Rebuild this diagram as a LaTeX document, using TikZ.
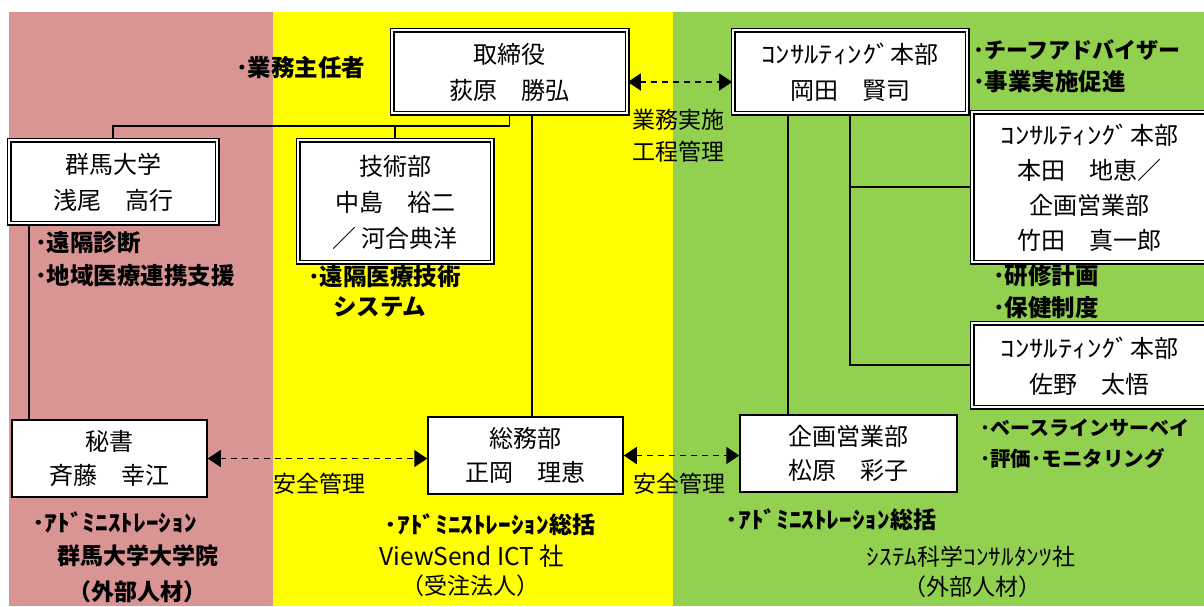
\documentclass[tikz,border=0pt]{standalone}
\usepackage{fontspec}
\usepackage{graphicx}
\setmainfont{Noto Sans CJK JP}
\usetikzlibrary{arrows.meta}
\definecolor{pinkbg}{HTML}{D99594}
\definecolor{yellowbg}{HTML}{FFFF00}
\definecolor{greenbg}{HTML}{92D050}
\newcommand{\hwA}[1]{\scalebox{1.2}[1]{#1}}
\newcommand{\hwB}[1]{\scalebox{1.1}[1]{#1}}
\tikzset{
  dbox/.style={draw, line width=1.7pt, double=white, double distance=1.6pt, fill=white, inner sep=0pt, align=center, font=\fontsize{24}{36}\selectfont, text depth=-5pt},
  sbox/.style={draw, line width=1.5pt, fill=white, inner sep=0pt, align=center, font=\fontsize{24}{34}\selectfont},
  conn/.style={line width=1.6pt},
  darrow/.style={line width=1.5pt, dash pattern=on 6pt off 5pt, {Triangle[length=13pt,width=17pt]}-{Triangle[length=13pt,width=17pt]}},
  blabel/.style={inner sep=0pt, anchor=west, font=\fontsize{23.5}{30}\selectfont\bfseries},
  clabel/.style={inner sep=0pt, align=center, font=\fontsize{23}{32}\selectfont\bfseries},
  rlabel/.style={inner sep=0pt, align=center, font=\fontsize{23}{32}\selectfont},
}
\begin{document}
\begin{tikzpicture}[x=1pt,y=-1pt]
\useasboundingbox (0,0) rectangle (1204,606);
\fill[white] (0,0) rectangle (1204,606);
\fill[pinkbg] (9,12) rectangle (273,606);
\fill[yellowbg] (273,12) rectangle (673,606);
\fill[greenbg] (673,12) rectangle (1204,606);

% boxes
\node[dbox, minimum width=235pt, minimum height=83pt] (top) at (509.5,71.5) {取締役\\荻原　勝弘};
\node[dbox, minimum width=234pt, minimum height=83pt] (okada) at (850,71.5) {\hwA{ｺﾝｻﾙﾃｨﾝｸﾞ}本部\\岡田　賢司};
\node[dbox, minimum width=208pt, minimum height=83pt] (gunma) at (113,181.5) {群馬大学\\浅尾　高行};
\node[dbox, minimum width=194pt, minimum height=122pt] (gijutsu) at (395,201) {技術部\\中島　裕二\\／ 河合典洋};
\node[dbox, minimum width=235pt, minimum height=150pt, font=\fontsize{24}{35}\selectfont] (honda) at (1089.5,187) {\hwA{ｺﾝｻﾙﾃｨﾝｸﾞ}本部\\本田　地恵／\\企画営業部\\竹田　真一郎};
\node[dbox, minimum width=235pt, minimum height=84pt] (sano) at (1089.5,365) {\hwA{ｺﾝｻﾙﾃｨﾝｸﾞ}本部\\佐野　太悟};
\node[sbox, minimum width=195pt, minimum height=77pt] (hisho) at (109.5,458.5) {秘書\\斉藤　幸江};
\node[sbox, minimum width=195pt, minimum height=77pt] (soumu) at (525.5,455.5) {総務部\\正岡　理恵};
\node[sbox, minimum width=217pt, minimum height=77pt] (kikaku) at (848.5,453.5) {企画営業部\\松原　彩子};

% helper coordinates
\coordinate (busY) at (0,126);
\coordinate (tx) at (532,0);
\coordinate (lx) at (29,0);
\coordinate (kx) at (788,0);
\coordinate (ay) at (0,82);

% solid connectors
\draw[conn] (top.south) |- (gunma.north |- busY) -- (gunma.north);
\draw[conn] (gijutsu.north) -- (gijutsu.north |- busY);
\draw[conn] (top.south -| tx) -- (soumu.north -| tx);
\draw[conn] (gunma.south -| lx) -- (hisho.north -| lx);
\draw[conn] (okada.south -| kx) -- (kikaku.north -| kx);
\draw[conn] (okada.south) |- (sano.west);
\draw[conn] (okada.south |- honda.west) -- (honda.west);

% dashed arrows
\draw[darrow] (top.east |- ay) -- (okada.west |- ay);
\draw[darrow] (hisho.east) -- (soumu.west |- hisho.east);
\draw[darrow] (soumu.east) -- (kikaku.west |- soumu.east);

% arrow labels
\node[rlabel, anchor=west, align=left] (lbl1) at (632,136) {業務実施\\工程管理};
\node[rlabel] (lbl2) at (319,484) {安全管理};
\node[rlabel] (lbl3) at (679,484) {安全管理};

% bold labels
\node[blabel] (t1) at (236,68) {･業務主任者};
\node[blabel] (t2) at (35,243) {･遠隔診断};
\node[blabel] (t3) at (35,276) {･地域医療連携支援};
\node[blabel] (t4) at (308,277) {･遠隔医療技術};
\node[blabel] (t5) at (333,307) {システム};
\node[blabel, font=\fontsize{22}{30}\selectfont\bfseries] (t6) at (973,50) {･チーフアドバイザー};
\node[blabel] (t7) at (973,82) {･事業実施促進};
\node[blabel] (t8) at (993,276) {･研修計画};
\node[blabel] (t9) at (993,308) {･保健制度};
\node[blabel, font=\fontsize{20}{30}\selectfont\bfseries] (t10) at (980,428) {･ベースラインサーベイ};
\node[blabel, font=\fontsize{20.5}{30}\selectfont\bfseries] (t11) at (980,459) {･評価･モニタリング};

% bottom captions
\node[blabel, font=\fontsize{23}{30}\selectfont\bfseries] (b1) at (32,522) {\hwB{･ｱﾄﾞﾐﾆｽﾄﾚｰｼｮﾝ}};
\node[clabel] (b2) at (138,556) {群馬大学大学院};
\node[clabel] (b3) at (137,592) {（外部人材）};
\node[clabel] (b4) at (490,525) {\hwB{･ｱﾄﾞﾐﾆｽﾄﾚｰｼｮﾝ}総括};
\node[rlabel, font=\fontsize{24.5}{32}\selectfont] (b5) at (472,556) {ViewSend ICT 社};
\node[rlabel] (b6) at (470,586) {（受注法人）};
\node[clabel] (b7) at (831,520) {\hwB{･ｱﾄﾞﾐﾆｽﾄﾚｰｼｮﾝ}総括};
\node[rlabel] (b8) at (971,557) {\hwB{ｼｽﾃﾑ}科学\hwB{ｺﾝｻﾙﾀﾝﾂ}社};
\node[rlabel] (b9) at (972,587) {（外部人材）};
\end{tikzpicture}
\end{document}
